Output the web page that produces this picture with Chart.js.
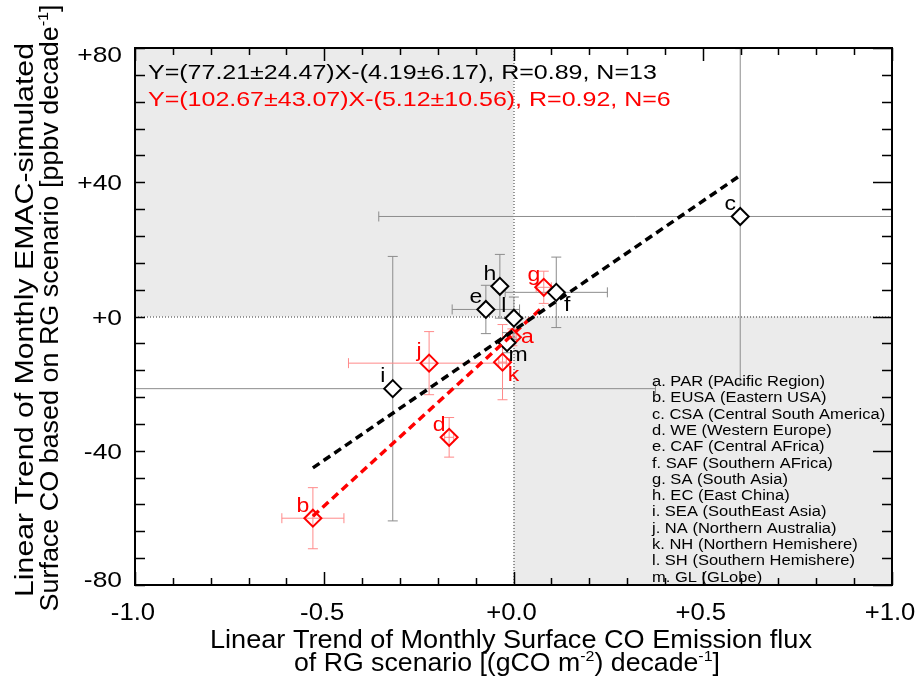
<!DOCTYPE html>
<html>
<head>
<meta charset="utf-8">
<script src="https://cdn.jsdelivr.net/npm/chart.js@4.4.0/dist/chart.umd.min.js"></script>
<style>
  body { margin: 0; background: #fff; }
  #wrap { width: 920px; height: 677px; }
</style>
</head>
<body>
<div id="wrap"><canvas id="trendChart" width="920" height="677"></canvas></div>
<script>
// region letters and names (legend list in the lower right)
const regionKeys = ["a", "b", "c", "d", "e", "f", "g", "h", "i", "j", "k", "l", "m"];
const regionNames = [
  "PAR (PAcific Region)",
  "EUSA (Eastern USA)",
  "CSA (Central South America)",
  "WE (Western Europe)",
  "CAF (Central AFrica)",
  "SAF (Southern AFrica)",
  "SA (South Asia)",
  "EC (East China)",
  "SEA (SouthEast Asia)",
  "NA (Northern Australia)",
  "NH (Northern Hemishere)",
  "SH (Southern Hemishere)",
  "GL (GLobe)",
];
// x: emission flux trend, y: EMAC surface CO trend, with their errors
const emissionTrend = [-0.003, -0.530, 0.599, -0.170, -0.073, 0.113, 0.080, -0.036, -0.319, -0.223, -0.029, 0.001, -0.017];
const emissionErr = [0.010, 0.082, 0.955, 0.012, 0.089, 0.135, 0.020, 0.010, 0.694, 0.213, 0.010, 0.010, 0.010];
const emacTrend = [-6.2, -60.1, 29.8, -36.0, 2.1, 7.2, 8.7, 9.0, -21.5, -13.9, -13.6, -0.5, -7.8];
const emacErr = [2.5, 9.1, 50.0, 5.9, 7.2, 10.5, 4.8, 9.5, 39.4, 9.4, 11.2, 6.3, 3.0];
const inRedGroup = [true, true, false, true, false, false, true, false, false, true, true, false, false];

// fitted lines (end points)
const fitAllX = [-0.53, 0.60];
const fitAllY = [-45.1, 42.1];
const fitRedX = [-0.53, 0.08];
const fitRedY = [-59.5, 3.1];
const fitLabels = [
  "Y=(77.21\u00B124.47)X-(4.19\u00B16.17), R=0.89, N=13",
  "Y=(102.67\u00B143.07)X-(5.12\u00B110.56), R=0.92, N=6",
];

const xTickValues = [-1.0, -0.5, 0.0, 0.5, 1.0];
const yTickValues = [80, 40, 0, -40, -80];

// where each letter sits relative to its marker
const labelSide = ["r", "ul", "ul", "ul", "ul", "lr", "ul", "ul", "ul", "ul", "lr", "ul", "lr"];

const FONT = '"Liberation Sans", Arial, Helvetica, sans-serif';
const RED = "#ff0000";
const RED_ERR = "#ff8a8a";
const GREY_ERR = "#8c8c8c";

function fmtTick(v, digits) {
  const s = Math.abs(v).toFixed(digits);
  return (v < 0 ? "-" : "+") + s;
}

function stretchText(ctx, text, x, y, sx, align) {
  ctx.save();
  ctx.translate(x, y);
  ctx.scale(sx, 1);
  ctx.textAlign = align || "left";
  ctx.fillText(text, 0, 0);
  ctx.restore();
}

// text with superscripts, centred on cx and fitted to a width
function richText(ctx, parts, cx, y, size, targetW) {
  const supSize = Math.round(size * 0.6);
  let w = 0;
  parts.forEach((p) => {
    ctx.font = (p.sup ? supSize : size) + "px " + FONT;
    p.w = ctx.measureText(p.t).width;
    w += p.w;
  });
  const sx = targetW / w;
  ctx.save();
  ctx.translate(cx - targetW / 2, y);
  ctx.scale(sx, 1);
  ctx.textAlign = "left";
  let x = 0;
  parts.forEach((p) => {
    ctx.font = (p.sup ? supSize : size) + "px " + FONT;
    ctx.fillText(p.t, x, p.sup ? -size * 0.42 : 0);
    x += p.w;
  });
  ctx.restore();
}

const blackPts = [];
const redPts = [];
regionKeys.forEach((k, i) => {
  const p = { x: emissionTrend[i], y: emacTrend[i] };
  (inRedGroup[i] ? redPts : blackPts).push(p);
});

const backdrop = {
  id: "backdrop",
  beforeDatasetsDraw(chart) {
    const { ctx, chartArea: a, scales: { x, y } } = chart;
    const x0 = x.getPixelForValue(0);
    const y0 = y.getPixelForValue(0);
    ctx.save();
    ctx.fillStyle = "#ebebeb";
    ctx.fillRect(a.left, a.top, x0 - a.left, y0 - a.top);
    ctx.fillRect(x0, y0, a.right - x0, a.bottom - y0);

    ctx.strokeStyle = "#333";
    ctx.lineWidth = 1;
    ctx.setLineDash([1, 2]);
    ctx.beginPath();
    ctx.moveTo(x0 + 0.5, a.top);
    ctx.lineTo(x0 + 0.5, a.bottom);
    ctx.moveTo(a.left, y0 + 0.5);
    ctx.lineTo(a.right, y0 + 0.5);
    ctx.stroke();
    ctx.setLineDash([]);

    // error bars
    ctx.beginPath();
    ctx.rect(a.left, a.top, a.right - a.left, a.bottom - a.top);
    ctx.clip();
    const cap = 5;
    regionKeys.forEach((k, i) => {
      ctx.strokeStyle = inRedGroup[i] ? RED_ERR : GREY_ERR;
      ctx.lineWidth = 1;
      const px = x.getPixelForValue(emissionTrend[i]);
      const py = y.getPixelForValue(emacTrend[i]);
      const xl = x.getPixelForValue(emissionTrend[i] - emissionErr[i]);
      const xr = x.getPixelForValue(emissionTrend[i] + emissionErr[i]);
      const yt = y.getPixelForValue(emacTrend[i] + emacErr[i]);
      const yb = y.getPixelForValue(emacTrend[i] - emacErr[i]);
      ctx.beginPath();
      ctx.moveTo(xl, py); ctx.lineTo(xr, py);
      ctx.moveTo(xl, py - cap); ctx.lineTo(xl, py + cap);
      ctx.moveTo(xr, py - cap); ctx.lineTo(xr, py + cap);
      ctx.moveTo(px, yt); ctx.lineTo(px, yb);
      ctx.moveTo(px - cap, yt); ctx.lineTo(px + cap, yt);
      ctx.moveTo(px - cap, yb); ctx.lineTo(px + cap, yb);
      ctx.stroke();
    });
    ctx.restore();
  },
};

const decorations = {
  id: "decorations",
  afterDraw(chart) {
    const { ctx, chartArea: a, scales: { x, y } } = chart;
    ctx.save();

    // frame
    ctx.strokeStyle = "#000";
    ctx.lineWidth = 2;
    ctx.strokeRect(a.left, a.top, a.right - a.left, a.bottom - a.top);

    // ticks, pointing inwards
    ctx.lineWidth = 1.5;
    ctx.beginPath();
    for (let v = -10; v <= 10; v++) {
      const px = Math.round(x.getPixelForValue(v / 10)) + 0.5;
      const major = v % 5 === 0;
      ctx.moveTo(px, a.bottom); ctx.lineTo(px, a.bottom - (major ? 13 : 7));
      ctx.moveTo(px, a.top); ctx.lineTo(px, a.top + (major ? 13 : 7));
    }
    for (let v = -80; v <= 80; v += 8) {
      const py = Math.round(y.getPixelForValue(v)) + 0.5;
      const major = v % 40 === 0;
      ctx.moveTo(a.left, py); ctx.lineTo(a.left + 10, py);
      ctx.moveTo(a.right, py); ctx.lineTo(a.right - (major ? 19 : 10), py);
    }
    ctx.stroke();

    // tick labels
    ctx.fillStyle = "#000";
    ctx.font = "22px " + FONT;
    ctx.textBaseline = "alphabetic";
    yTickValues.forEach((v, i) => {
      const py = y.getPixelForValue(v);
      let base = py + 8;
      if (i === 0) base = py + 14;
      if (i === yTickValues.length - 1) base = py + 2;
      stretchText(ctx, fmtTick(v, 0), 122, base, 1.2, "right");
    });
    ctx.font = "24px " + FONT;
    xTickValues.forEach((v) => {
      const px = x.getPixelForValue(v);
      stretchText(ctx, fmtTick(v, 1), px - 2, 620, 1.07, "center");
    });

    // point letters
    ctx.font = "20px " + FONT;
    ctx.textBaseline = "middle";
    regionKeys.forEach((k, i) => {
      const px = x.getPixelForValue(emissionTrend[i]);
      const py = y.getPixelForValue(emacTrend[i]);
      let dx = -10, dy = -12;
      if (labelSide[i] === "lr") { dx = 11; dy = 13; }
      if (labelSide[i] === "r") { dx = 15; dy = 0; }
      ctx.fillStyle = inRedGroup[i] ? RED : "#000";
      stretchText(ctx, k, px + dx, py + dy, 1.15, "center");
    });

    // fit equations
    ctx.textBaseline = "alphabetic";
    ctx.font = "21px " + FONT;
    ctx.fillStyle = "#000";
    stretchText(ctx, fitLabels[0], 148, 79, 1.19, "left");
    ctx.fillStyle = RED;
    stretchText(ctx, fitLabels[1], 148, 106, 1.19, "left");

    // region list
    ctx.fillStyle = "#000";
    ctx.font = "14px " + FONT;
    regionKeys.forEach((k, i) => {
      stretchText(ctx, k + ". " + regionNames[i], 652, 386 + i * 16.3, 1.18, "left");
    });

    // axis titles
    richText(ctx, [{ t: "Linear Trend of Monthly Surface CO Emission flux" }], 511, 648, 25, 602);
    richText(ctx, [
      { t: "of RG scenario [(gCO m" }, { t: "-2", sup: true },
      { t: ") decade" }, { t: "-1", sup: true }, { t: "]" },
    ], 507, 671, 25, 426);

    ctx.save();
    ctx.rotate(-Math.PI / 2);
    richText(ctx, [{ t: "Linear Trend of Monthly EMAC-simulated" }], -320, 33, 25, 554);
    richText(ctx, [
      { t: "Surface CO based on RG scenario [ppbv decade" }, { t: "-1", sup: true }, { t: "]" },
    ], -308, 58, 25, 607);
    ctx.restore();

    ctx.restore();
  },
};

const ctx = document.getElementById("trendChart").getContext("2d");
const trendChart = new Chart(ctx, {
  type: "scatter",
  data: {
    datasets: [
      {
        label: "fit all",
        type: "line",
        data: fitAllX.map((v, i) => ({ x: v, y: fitAllY[i] })),
        borderColor: "#000",
        borderWidth: 3.5,
        borderDash: [8, 5],
        pointRadius: 0,
        fill: false,
        order: 1,
      },
      {
        label: "fit red",
        type: "line",
        data: fitRedX.map((v, i) => ({ x: v, y: fitRedY[i] })),
        borderColor: RED,
        borderWidth: 3.5,
        borderDash: [8, 5],
        pointRadius: 0,
        fill: false,
        order: 1,
      },
      {
        label: "regions",
        data: blackPts,
        pointStyle: "rectRot",
        pointRadius: 8.5,
        borderWidth: 2,
        borderColor: "#000",
        backgroundColor: "#fff",
        order: 2,
      },
      {
        label: "regions (red)",
        data: redPts,
        pointStyle: "rectRot",
        pointRadius: 8.5,
        borderWidth: 2,
        borderColor: RED,
        backgroundColor: "rgba(0,0,0,0)",
        order: 2,
      },
    ],
  },
  options: {
    responsive: false,
    animation: false,
    events: [],
    layout: { padding: { left: 0, right: 28, top: 48, bottom: 0 } },
    plugins: {
      legend: { display: false },
      tooltip: { enabled: false },
    },
    scales: {
      x: {
        type: "linear",
        min: -1,
        max: 1,
        grid: { display: false },
        border: { display: false },
        ticks: { display: false },
        afterFit: (scale) => { scale.height = 92; },
      },
      y: {
        type: "linear",
        min: -80,
        max: 80,
        grid: { display: false },
        border: { display: false },
        ticks: { display: false },
        afterFit: (scale) => { scale.width = 135; },
      },
    },
  },
  plugins: [backdrop, decorations],
});
</script>
</body>
</html>
